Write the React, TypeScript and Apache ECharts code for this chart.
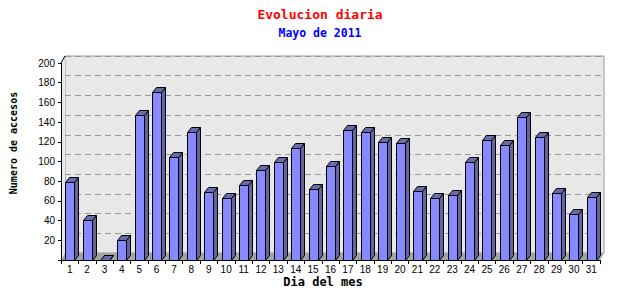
import React, { useEffect, useRef } from "react";
import * as echarts from "echarts";

const days = Array.from({ length: 31 }, (_, i) => String(i + 1));
const visits = [79, 41, 0, 20, 147, 171, 105, 130, 69, 63, 76, 91, 99, 114, 72, 95, 132, 130, 120, 119, 70, 63, 66, 100, 122, 117, 145, 125, 68, 47, 64];
const yTicks = [0, 20, 40, 60, 80, 100, 120, 140, 160, 180, 200];

const titleText = "Evolucion diaria";
const subtitleText = "Mayo de 2011";
const yName = "Numero de accesos";
const xName = "Dia del mes";

const DX = 4;
const DY = 5;

export default function App() {
  const ref = useRef<HTMLDivElement>(null);
  useEffect(() => {
    if (!ref.current) return;
    const chart = echarts.init(ref.current, null, { renderer: "svg" });
    const yMax = yTicks[yTicks.length - 1];
    const yInt = yTicks[1] - yTicks[0];
    chart.setOption({
      animation: false,
      backgroundColor: "#ffffff",
      title: {
        text: titleText,
        subtext: subtitleText,
        left: "center",
        top: 3,
        itemGap: 6,
        textStyle: { fontFamily: "DejaVu Sans Mono", fontSize: 13, fontWeight: "bold", color: "#ff0000" },
        subtextStyle: { fontFamily: "DejaVu Sans Mono", fontSize: 11.5, fontWeight: "bold", color: "#0000ff" },
      },
      grid: [
        { left: 61, right: 40, top: 63, bottom: 40, containLabel: false },
        {
          left: 65, right: 36, top: 56, bottom: 47, containLabel: false,
          show: true, backgroundColor: "#e8e8e8", borderColor: "#999999", borderWidth: 1, z: -1,
        },
      ],
      xAxis: [
        {
          type: "category", gridIndex: 0, data: days, z: 10,
          axisLine: { lineStyle: { color: "#000000", width: 1 } },
          axisTick: { show: true, alignWithLabel: false, length: 4, lineStyle: { color: "#000000" } },
          axisLabel: { interval: 0, margin: 4, fontFamily: "Liberation Sans", fontSize: 10, color: "#000000" },
          splitLine: { show: false },
        },
        { type: "category", gridIndex: 1, data: days, show: false },
      ],
      yAxis: [
        {
          type: "value", gridIndex: 0, min: 0, max: yMax, interval: yInt, z: 10,
          axisLine: { show: true, lineStyle: { color: "#000000", width: 1 } },
          axisTick: { show: true, length: 3, lineStyle: { color: "#000000" } },
          axisLabel: {
            margin: 6, fontFamily: "Liberation Sans", fontSize: 10, color: "#000000",
            formatter: (v: number) => (v === 0 ? "" : String(v)),
          },
          splitLine: { show: false },
        },
        {
          type: "value", gridIndex: 1, min: 0, max: yMax, interval: yInt,
          axisLine: { show: false }, axisTick: { show: false }, axisLabel: { show: false },
          splitLine: { show: true, lineStyle: { color: "#999999", type: [6, 4], width: 1 } },
        },
      ],
      graphic: [
        {
          type: "polygon", z: 1, silent: true,
          shape: { points: [[61, 260], [600, 260], [604, 253], [65, 253]] },
          style: { fill: "#a4a4a4", stroke: "none" },
        },
        {
          type: "polygon", z: 1, silent: true,
          shape: { points: [[61, 63], [65, 56], [65, 253], [61, 260]] },
          style: { fill: "#e8e8e8", stroke: "none" },
        },
        {
          type: "line", z: 1, silent: true,
          shape: { x1: 61, y1: 63, x2: 65, y2: 56 },
          style: { stroke: "#000000", lineWidth: 1 },
        },
        {
          type: "text", x: 13, y: 143, rotation: Math.PI / 2,
          style: {
            text: yName, fontFamily: "DejaVu Sans Mono", fontSize: 10, fontWeight: "bold",
            fill: "#000000", align: "center", verticalAlign: "middle",
          },
        },
        {
          type: "text", x: 323, y: 282,
          style: {
            text: xName, fontFamily: "DejaVu Sans Mono", fontSize: 12, fontWeight: "bold",
            fill: "#000000", align: "center", verticalAlign: "middle",
          },
        },
      ],
      series: [
        {
          type: "custom",
          xAxisIndex: 0,
          yAxisIndex: 0,
          z: 5,
          data: visits.map((v, i) => [i, v]),
          encode: { x: 0, y: 1 },
          renderItem: (params: any, api: any) => {
            const idx = api.value(0);
            const val = api.value(1);
            const top = api.coord([idx, val]);
            const base = api.coord([idx, 0]);
            const bw = api.size([1, 0])[0] * 0.52;
            const x0 = Math.round(top[0] - bw / 2) + 0.5;
            const x1 = x0 + Math.round(bw);
            const yT = Math.round(top[1]) + 0.5;
            const yB = Math.round(base[1]) + 0.5;
            const stroke = { stroke: "#000000", lineWidth: 1 };
            return {
              type: "group",
              children: [
                {
                  type: "polygon",
                  shape: { points: [[x1, yT], [x1 + DX, yT - DY], [x1 + DX, yB - DY], [x1, yB]] },
                  style: { fill: "#64649e", ...stroke },
                },
                {
                  type: "polygon",
                  shape: { points: [[x0, yT], [x0 + DX, yT - DY], [x1 + DX, yT - DY], [x1, yT]] },
                  style: { fill: "#6a6aac", ...stroke },
                },
                {
                  type: "rect",
                  shape: { x: x0, y: yT, width: x1 - x0, height: yB - yT },
                  style: { fill: "#8888ff", ...stroke },
                },
              ],
            };
          },
        },
      ],
    });
    return () => chart.dispose();
  }, []);
  return <div ref={ref} style={{ position: "absolute", left: 0, top: 0, width: 640, height: 300 }} />;
}
